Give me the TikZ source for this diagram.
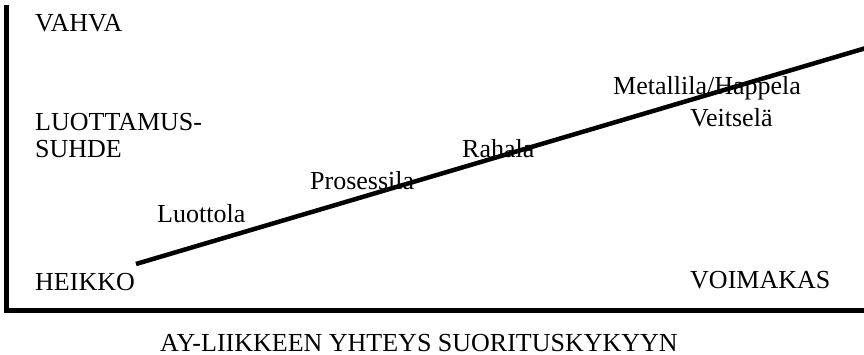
\documentclass[tikz,border=0pt]{standalone}
\usepackage{fontspec}
\setmainfont{Liberation Serif}
\begin{document}
\begin{tikzpicture}[x=1pt,y=-1pt,
  lbl/.style={anchor=base west,inner sep=0pt,font=\fontsize{26}{30}\selectfont},
  axisline/.style={line width=5pt},
  trendline/.style={line width=4.5pt}]
\useasboundingbox (0,0) rectangle (864,355);
% axes
\coordinate (top) at (6,5);
\coordinate (origin) at (6,310);
\coordinate (xend) at (864,310);
\draw[axisline] (top) -- (origin) -- (xend);
% trend line
\coordinate (tstart) at (136,264);
\coordinate (tend) at (866,48);
\draw[trendline] (tstart) -- (tend);
% labels
\node[lbl] (vahva) at (35,32) {VAHVA};
\node[lbl] (luott) at (35,131) {LUOTTAMUS-};
\node[lbl] (suhde) at (35,158) {SUHDE};
\node[lbl] (heikko) at (35,290) {HEIKKO};
\node[lbl] (voimakas) at (690,288) {VOIMAKAS};
\node[lbl] (luottola) at (157,223) {Luottola};
\node[lbl] (prosessila) at (310,190) {Prosessila};
\node[lbl] (rahala) at (462,158) {Rahala};
\node[lbl] (metallila) at (613,95) {Metallila/Happela};
\node[lbl] (veitsela) at (690,127) {Veitselä};
\node[lbl] (xlabel) at (160,351) {AY-LIIKKEEN YHTEYS SUORITUSKYKYYN};
\end{tikzpicture}
\end{document}
